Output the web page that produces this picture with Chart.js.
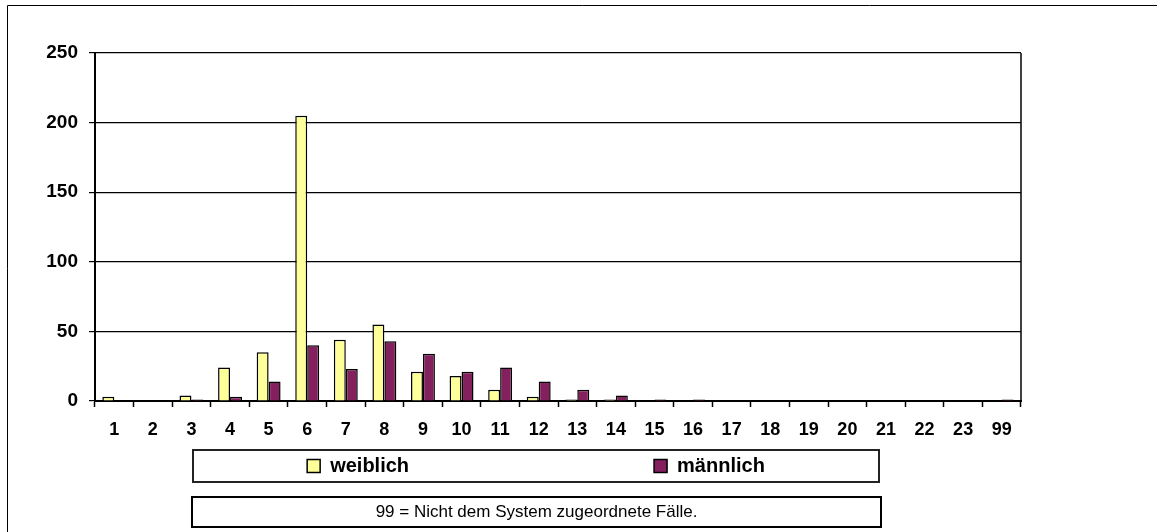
<!DOCTYPE html>
<html>
<head>
<meta charset="utf-8">
<script src="https://cdn.jsdelivr.net/npm/chart.js@4.4.1/dist/chart.umd.min.js"></script>
<style>
  body { margin: 0; background: #fff; }
  canvas { display: block; }
</style>
</head>
<body>
<canvas id="ageChart" width="1157" height="532"></canvas>
<script>
const categories = ['1', '2', '3', '4', '5', '6', '7', '8', '9', '10', '11', '12',
    '13', '14', '15', '16', '17', '18', '19', '20', '21', '22', '23', '99'];
const weiblich = [3, 0, 4, 24, 35, 205, 44, 55, 21, 18, 8, 3,
    1, 1, 0, 0, 0, 0, 0, 0, 0, 0, 0, 0];
const maennlich = [0, 0, 1, 3, 14, 40, 23, 43, 34, 21, 24, 14,
    8, 4, 1, 1, 0, 0, 0, 0, 0, 0, 0, 1];
const yMax = 250;
const yStep = 50;
const noteText = '99 = Nicht dem System zugeordnete Fälle.';

Chart.defaults.font.family = "Arial, 'Liberation Sans', sans-serif";
Chart.defaults.color = '#000';

// moves legend + note into their boxes and draws the frames
const frameBoxes = {
    id: 'frameBoxes',
    afterLayout(chart) {
        // legend is centred on (left + right) / 2 = 536, right kept wide so items don't wrap
        const legend = chart.legend;
        legend.left = 60;
        legend.right = 1012;
        legend.width = 952;
        legend.top = 456 - legend.options.labels.padding;

        const note = chart.titleBlock;
        note.left = 192;
        note.right = 881;
        note.width = 689;
        note.top = 502;
    },
    afterDraw(chart) {
        const ctx = chart.ctx;
        const area = chart.chartArea;
        ctx.save();
        ctx.strokeStyle = '#000';

        // outer frame (cut off at right and bottom)
        ctx.lineWidth = 1;
        ctx.beginPath();
        ctx.moveTo(7.5, 532);
        ctx.lineTo(7.5, 5.5);
        ctx.lineTo(1157, 5.5);
        ctx.stroke();

        // right edge of the plot
        ctx.lineWidth = 1.5;
        ctx.beginPath();
        ctx.moveTo(area.right, area.top);
        ctx.lineTo(area.right, area.bottom);
        ctx.stroke();

        // legend box
        ctx.lineWidth = 2;
        ctx.strokeStyle = '#222';
        ctx.strokeRect(193, 450, 686, 32);

        // note box
        ctx.strokeStyle = '#000';
        ctx.strokeRect(192, 497, 689, 30);
        ctx.restore();
    }
};

const ctx = document.getElementById('ageChart').getContext('2d');

const ageChart = new Chart(ctx, {
    type: 'bar',
    data: {
        labels: categories,
        datasets: [{
            label: 'weiblich',
            data: weiblich,
            backgroundColor: '#FFFF99',
            borderColor: '#000',
            borderWidth: 1.5
        }, {
            label: 'männlich',
            data: maennlich,
            backgroundColor: '#85205F',
            borderColor: '#000',
            borderWidth: 1.5
        }]
    },
    options: {
        responsive: false,
        animation: false,
        events: [],
        layout: {
            padding: { left: 8, right: 136, top: 53, bottom: 36.6 }
        },
        datasets: {
            bar: { categoryPercentage: 0.62, barPercentage: 1.0 }
        },
        scales: {
            x: {
                afterFit: scale => { scale.height = 40; },
                grid: {
                    drawOnChartArea: false,
                    drawTicks: true,
                    tickLength: 6,
                    tickColor: '#000',
                    tickWidth: 1.5
                },
                border: { color: '#000', width: 2 },
                ticks: {
                    autoSkip: false,
                    maxRotation: 0,
                    padding: 12,
                    font: { size: 18, weight: 'bold' }
                }
            },
            y: {
                min: 0,
                max: yMax,
                afterFit: scale => { scale.width = 87; },
                grid: {
                    color: '#000',
                    lineWidth: 1.2,
                    tickLength: 6,
                    tickColor: '#000'
                },
                border: { color: '#000', width: 2 },
                ticks: {
                    stepSize: yStep,
                    padding: 11,
                    font: { size: 19, weight: 'bold' }
                }
            }
        },
        plugins: {
            tooltip: { enabled: false },
            legend: {
                position: 'bottom',
                maxHeight: 34,
                labels: {
                    boxWidth: 13,
                    boxHeight: 13,
                    padding: 245,
                    color: '#000',
                    font: { size: 20, weight: 'bold' }
                }
            },
            title: {
                display: true,
                position: 'bottom',
                text: noteText,
                padding: { top: 0, bottom: 0 },
                color: '#000',
                font: { size: 17, weight: 'normal' }
            }
        }
    },
    plugins: [frameBoxes]
});
</script>
</body>
</html>
